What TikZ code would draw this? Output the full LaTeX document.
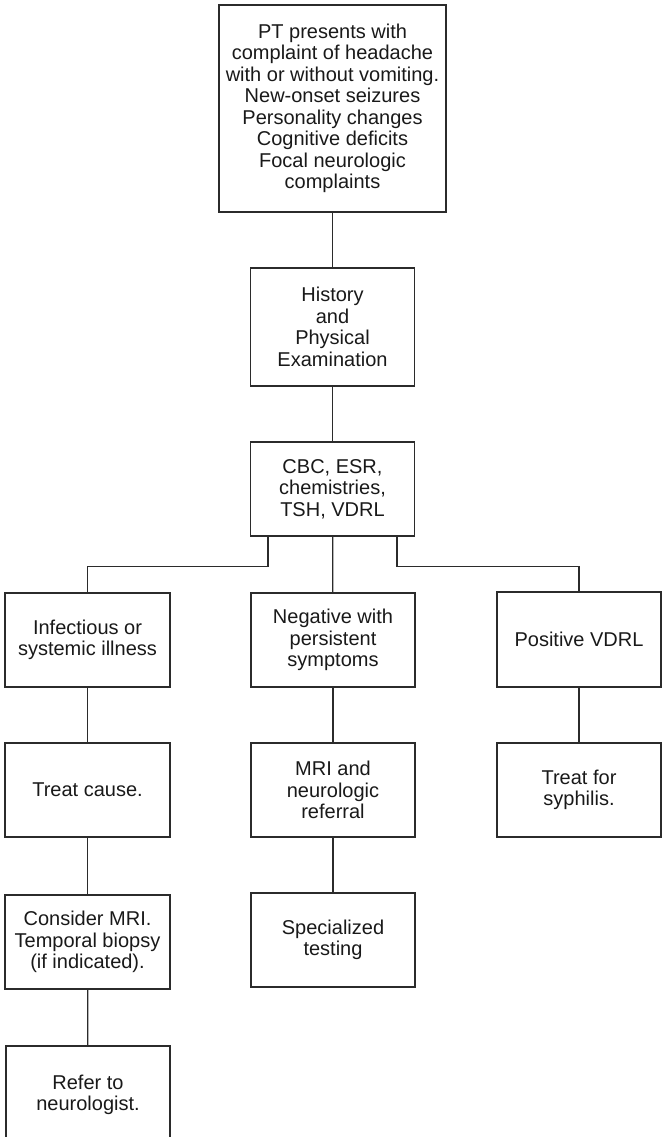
\documentclass[tikz,border=0pt]{standalone}
\usepackage{fontspec}
\setmainfont{Liberation Sans}
\usepackage{xcolor}
\definecolor{ink}{HTML}{2B2B2B}
\usepackage{tikz}
\usetikzlibrary{positioning, calc}

\begin{document}
\begin{tikzpicture}[
  x=1pt, y=-1pt,
  every node/.style={font=\fontsize{20}{21.5}\selectfont},
  bx/.style={rectangle, draw=ink, line width=1.3pt, text=black!90, align=center,
             inner sep=0pt, minimum width=#1, minimum height=94pt},
  bx/.default=164pt,
  ln/.style={draw=ink, line width=1.3pt}
]
  \useasboundingbox (0,0) rectangle (663,1137);
  \node[bx=227pt, minimum height=207pt] (start) at (332.5,108.5) {PT presents with\\complaint of headache\\with or without vomiting.\\New-onset seizures\\Personality changes\\Cognitive deficits\\Focal neurologic\\complaints};
  \node[bx, minimum height=118pt] (hist) at (332.5,327) {History\\and\\Physical\\Examination};
  \node[bx] (labs) at (332.5,489) {CBC, ESR,\\chemistries,\\TSH, VDRL};
  \node[bx=165pt] (infect) at (87.5,640) {Infectious or\\systemic illness};
  \node[bx] (negative) at (333,640) {Negative with\\persistent\\symptoms};
  \node[bx, minimum height=95pt] (positive) at (579,639.5) {Positive VDRL};
  \node[bx=165pt] (cause) at (87.5,790) {Treat cause.};
  \node[bx] (mri) at (333,790) {MRI and\\neurologic\\referral};
  \node[bx] (syph) at (579,790) {Treat for\\syphilis.};
  \node[bx=165pt] (biopsy) at (87.5,942) {Consider MRI.\\Temporal biopsy\\(if indicated).};
  \node[bx] (special) at (333,940) {Specialized\\testing};
  \node[bx=164pt, minimum height=98pt] (refer) at (88,1095) {Refer to\\neurologist.};
  \draw[ln] (start) -- (hist);
  \draw[ln] (hist) -- (labs);
  \draw[ln] ([xshift=-64.5pt]labs.south) -- ++(0,30) -| (infect.north);
  \draw[ln] (labs) -- (negative);
  \draw[ln] ([xshift=64.5pt]labs.south) -- ++(0,30) -| (positive.north);
  \draw[ln] (infect) -- (cause);
  \draw[ln] (cause) -- (biopsy);
  \draw[ln] (biopsy) -- (refer);
  \draw[ln] (negative) -- (mri);
  \draw[ln] (mri) -- (special);
  \draw[ln] (positive) -- (syph);
\end{tikzpicture}
\end{document}
